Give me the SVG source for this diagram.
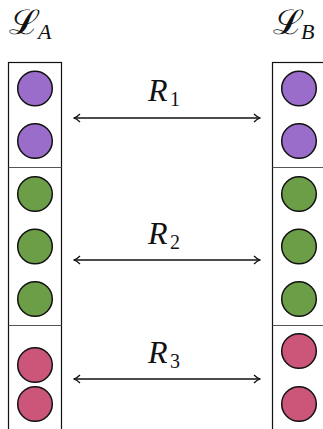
<svg xmlns="http://www.w3.org/2000/svg" width="323" height="429" viewBox="0 0 323 429">
<style>
.box{fill:none;stroke:#111;stroke-width:1.2}
.div{stroke:#555;stroke-width:1}
.p{fill:#9a6dcb;stroke:#111;stroke-width:1.5}
.g{fill:#6c9e47;stroke:#111;stroke-width:1.5}
.r{fill:#cc5679;stroke:#111;stroke-width:1.5}
.conn{stroke:#111;stroke-width:1.4;fill:none;marker-start:url(#ah);marker-end:url(#ah)}
.lbl{font-family:"Liberation Serif",serif;font-style:italic;font-size:32px;fill:#111}
.sub{font-family:"Liberation Serif",serif;font-size:20px;fill:#111}
.cal{font-family:"DejaVu Serif","Liberation Serif",serif;font-size:34px;fill:#111}
.subi{font-family:"Liberation Serif",serif;font-style:italic;font-size:22px;fill:#111}
</style>
<defs>
<marker id="ah" viewBox="0 0 10 10" refX="9" refY="5" markerWidth="10" markerHeight="10" markerUnits="userSpaceOnUse" orient="auto-start-reverse">
<path d="M3,1 Q6,4 9,5 Q6,6 3,9" fill="none" stroke="#111" stroke-width="1.3"/>
</marker>
</defs>
<g id="LA">
<text class="cal" x="9" y="34" textLength="31" lengthAdjust="spacingAndGlyphs">ℒ</text><text class="subi" x="38" y="39">A</text>
<rect class="box" x="8.5" y="62.5" width="53" height="380"/>
<line class="div" x1="8.5" y1="167.5" x2="61.5" y2="167.5"/>
<line class="div" x1="8.5" y1="325.5" x2="61.5" y2="325.5"/>
<circle class="p" cx="35" cy="88.5" r="17.3"/>
<circle class="p" cx="35" cy="141" r="17.3"/>
<circle class="g" cx="35" cy="194" r="17.3"/>
<circle class="g" cx="35" cy="246.5" r="17.3"/>
<circle class="g" cx="35" cy="299" r="17.3"/>
<circle class="r" cx="35" cy="365" r="17.3"/>
<circle class="r" cx="35" cy="404" r="17.3"/>
</g>
<g id="LB">
<text class="cal" x="273" y="34" textLength="31" lengthAdjust="spacingAndGlyphs">ℒ</text><text class="subi" x="301" y="39">B</text>
<rect class="box" x="272.5" y="62.5" width="60" height="380"/>
<line class="div" x1="272.5" y1="167.5" x2="323" y2="167.5"/>
<line class="div" x1="272.5" y1="325.5" x2="323" y2="325.5"/>
<circle class="p" cx="299" cy="88.5" r="17.3"/>
<circle class="p" cx="299" cy="141" r="17.3"/>
<circle class="g" cx="299" cy="194" r="17.3"/>
<circle class="g" cx="299" cy="246.5" r="17.3"/>
<circle class="g" cx="299" cy="299" r="17.3"/>
<circle class="r" cx="299" cy="351" r="17.3"/>
<circle class="r" cx="299" cy="404" r="17.3"/>
</g>
<g id="connectors">
<line class="conn" x1="74" y1="118" x2="260" y2="118"/>
<line class="conn" x1="74" y1="260" x2="260" y2="260"/>
<line class="conn" x1="74" y1="379" x2="260" y2="379"/>
</g>
<g id="labels">
<text class="lbl" x="148" y="101">R</text><text class="sub" x="170" y="106">1</text>
<text class="lbl" x="148" y="244">R</text><text class="sub" x="170" y="249">2</text>
<text class="lbl" x="148" y="363">R</text><text class="sub" x="170" y="368">3</text>
</g>
</svg>
